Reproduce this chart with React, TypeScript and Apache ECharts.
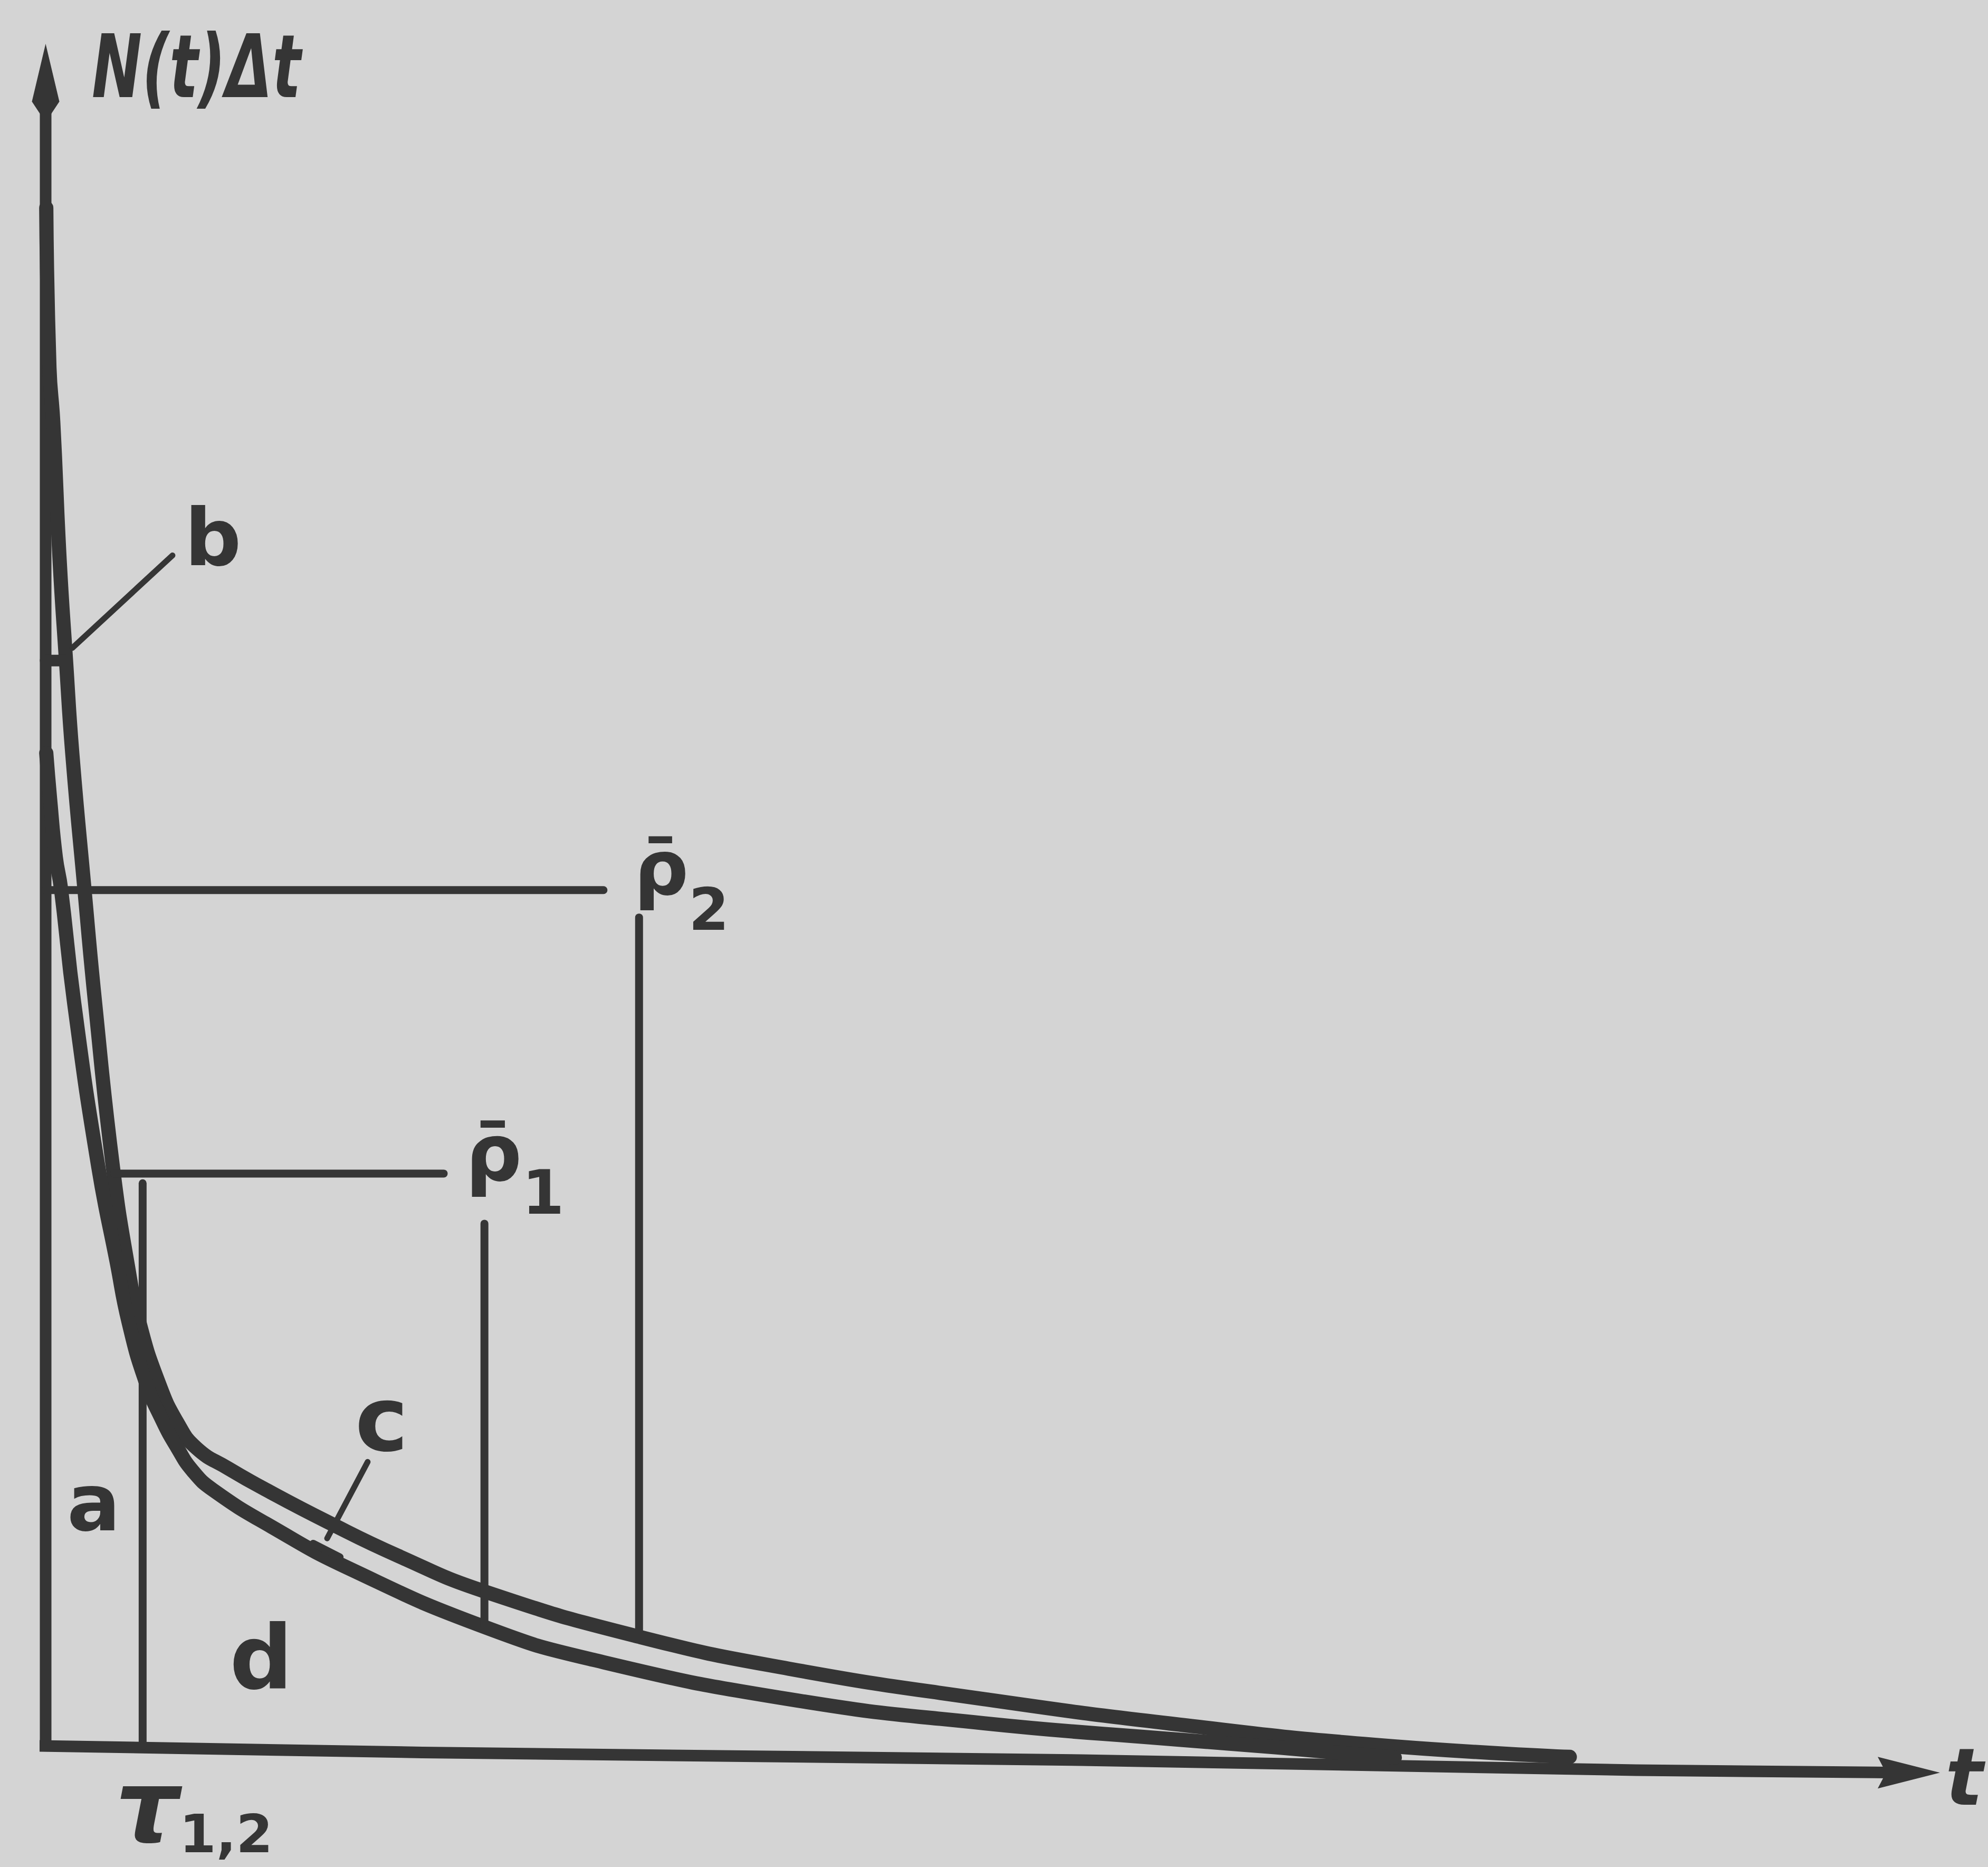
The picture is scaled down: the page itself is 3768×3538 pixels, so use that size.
import React, { useEffect, useRef } from 'react';
import * as echarts from 'echarts';

const INK = '#353535';
const PAPER = '#d4d4d4';
const FONT = '"DejaVu Sans", "Noto Sans", sans-serif';

// Upper curve (t, N(t)Δt) in arbitrary schematic units
const upperCurve: [number, number][] = [
  [0.033, 90.6], [0.2, 81.19], [0.4, 77.99], [0.733, 69.93], [1.067, 64.03], [1.4, 58.51],
  [2.033, 50.6], [2.6, 43.81], [3.533, 34.18], [4.333, 28.28], [4.933, 25.0], [5.933, 21.49],
  [6.933, 19.1], [7.933, 17.61], [9.6, 16.42], [11.6, 15.15], [14.8, 13.28], [18.533, 11.27],
  [23.067, 9.18], [31.267, 6.49], [39.067, 4.63], [49.333, 2.84], [59.6, 1.34], [69.867, 0.15],
  [80.133, -0.56],
];

// Lower curve
const lowerCurve: [number, number][] = [
  [0.033, 58.51], [0.233, 55.82], [0.533, 52.39], [0.8, 50.6], [1.5, 43.81], [2.767, 34.18],
  [3.733, 28.58], [4.367, 25.0], [5.267, 21.49], [6.133, 19.25], [6.933, 17.61], [7.733, 16.27],
  [8.8, 15.15], [11.867, 12.99], [15.967, 10.52], [23.067, 7.09], [28.8, 5.15], [39.067, 2.84],
  [49.333, 1.42], [59.6, 0.45], [64.733, 0.0], [70.933, -0.6],
];

// Axes (hand drawn, the t axis slightly slanted)
const yAxisLine: [number, number][] = [[0, 0.1], [0, 97]];
const xAxisLine: [number, number][] = [[-1.4, 0.11], [19.8, -0.3], [54.47, -0.75], [83.6, -1.34], [97.5, -1.49]];
const xArrowAt: [number, number] = [97.96, -1.49];
const yArrowAt: [number, number] = [0, 98.13];

// Reference lines
const tauLine: [number, number][] = [[5.1, 33.2], [5.1, 0.1]];
const rho1Horizontal: [number, number][] = [[3.6, 33.77], [20.93, 33.77]];
const rho1Vertical: [number, number][] = [[23.07, 30.82], [23.07, 7.09]];
const rho2Horizontal: [number, number][] = [[0, 50.45], [29.33, 50.45]];
const rho2Vertical: [number, number][] = [[31.2, 48.84], [31.2, 6.5]];
const bBar: [number, number][] = [[0, 63.96], [1.1, 63.96]];
const bLeader: [number, number][] = [[1.4, 64.7], [6.67, 70.15]];
const cLeader: [number, number][] = [[16.93, 16.8], [14.8, 12.3]];
const cTick: [number, number][] = [[14.07, 12.0], [15.47, 11.2]];

// Labels
const labelTexts = ['b', 'a', 'c', 'd', '{r2|ρ\u0304}{s2|2}', '{r1|ρ\u0304}{s1|1}', '{tau|τ}{ts|1,2}', 't'];
const labelPos: [number, number][] = [
  [8.8, 71.2], [2.53, 14.4], [17.67, 19.3], [11.33, 5.26],
  [30.93, 49.31], [22.07, 32.66], [3.67, -5.09], [100.87, -1.75],
];
const labelSizes = [150, 150, 170, 167, 145, 150, 190, 150];
const labelAligns = ['center', 'center', 'center', 'center', 'left', 'left', 'left', 'center'];
const labelStyles = ['normal', 'normal', 'normal', 'normal', 'normal', 'normal', 'normal', 'italic'];

const Y_ARROW = 'path://M10,0 L20,40 L13,50 L7,50 L0,40 Z';
const X_ARROW = 'path://M0,0 L30,14 L0,28 L4,14 Z';

export default function App() {
  const ref = useRef<HTMLDivElement>(null);

  useEffect(() => {
    const el = ref.current;
    if (!el) return;
    const chart = echarts.init(el, null, { renderer: 'svg' });

    const line = (name: string, data: [number, number][], width: number, smooth: number | boolean = false) => ({
      type: 'line',
      name,
      data,
      smooth,
      showSymbol: false,
      silent: true,
      clip: false,
      z: 2,
      lineStyle: { color: INK, width, cap: 'round', join: 'round' },
    });

    const labelData = labelTexts.map((text, i) => ({
      value: labelPos[i],
      text,
      label: { fontSize: labelSizes[i], align: labelAligns[i], fontStyle: labelStyles[i] },
    }));

    const tok = (fontSize: number, lineHeight: number, verticalAlign: string, fontStyle = 'normal') => ({
      fontSize, lineHeight, verticalAlign, fontStyle, color: INK, fontFamily: FONT, fontWeight: 'bold',
    });

    chart.setOption({
      animation: false,
      backgroundColor: PAPER,
      grid: { left: 86.5, right: 76.5, top: 91.3, bottom: 226.7, containLabel: false },
      xAxis: { type: 'value', min: 0, max: 100, show: false },
      yAxis: { type: 'value', min: 0, max: 100, show: false },
      series: [
        line('y-axis', yAxisLine, 22),
        line('t-axis', xAxisLine, 22),
        line('upper', upperCurve, 27, 0.5),
        line('lower', lowerCurve, 27, 0.5),
        line('tau', tauLine, 15),
        line('rho1-h', rho1Horizontal, 15),
        line('rho1-v', rho1Vertical, 15),
        line('rho2-h', rho2Horizontal, 15),
        line('rho2-v', rho2Vertical, 15),
        line('b-bar', bBar, 22),
        line('b-leader', bLeader, 11),
        line('c-leader', cLeader, 11),
        line('c-tick', cTick, 14),
        {
          type: 'scatter',
          name: 'arrows',
          silent: true,
          clip: false,
          z: 3,
          itemStyle: { color: INK, opacity: 1 },
          data: [
            { value: xArrowAt, symbol: X_ARROW, symbolSize: [118, 60] },
            { value: yArrowAt, symbol: Y_ARROW, symbolSize: [52, 137] },
          ],
        },
        {
          type: 'scatter',
          name: 'labels',
          silent: true,
          clip: false,
          z: 4,
          symbolSize: 1,
          itemStyle: { color: 'rgba(0,0,0,0)', opacity: 1 },
          label: {
            show: true,
            position: 'inside',
            color: INK,
            fontFamily: FONT,
            fontWeight: 'bold',
            formatter: (p: any) => p.data.text,
            rich: {
              r1: tok(150, 150, 'top'),
              s1: tok(115, 299, 'middle'),
              r2: tok(145, 145, 'top'),
              s2: tok(110, 303, 'middle'),
              tau: tok(190, 190, 'top', 'italic'),
              ts: tok(100, 294, 'middle'),
            },
          },
          data: labelData,
        },
      ],
      graphic: [
        {
          type: 'text',
          x: 174,
          y: 126,
          scaleX: 0.69,
          silent: true,
          z: 10,
          style: {
            text: 'N(t)Δt',
            fill: INK,
            fontSize: 165,
            fontFamily: FONT,
            fontWeight: 'bold',
            fontStyle: 'italic',
            align: 'left',
            verticalAlign: 'middle',
          },
        },
      ],
    });

    return () => chart.dispose();
  }, []);

  return (
    <div
      ref={ref}
      style={{ position: 'fixed', left: 0, top: 0, width: 3768, height: 3538, background: PAPER }}
    />
  );
}
